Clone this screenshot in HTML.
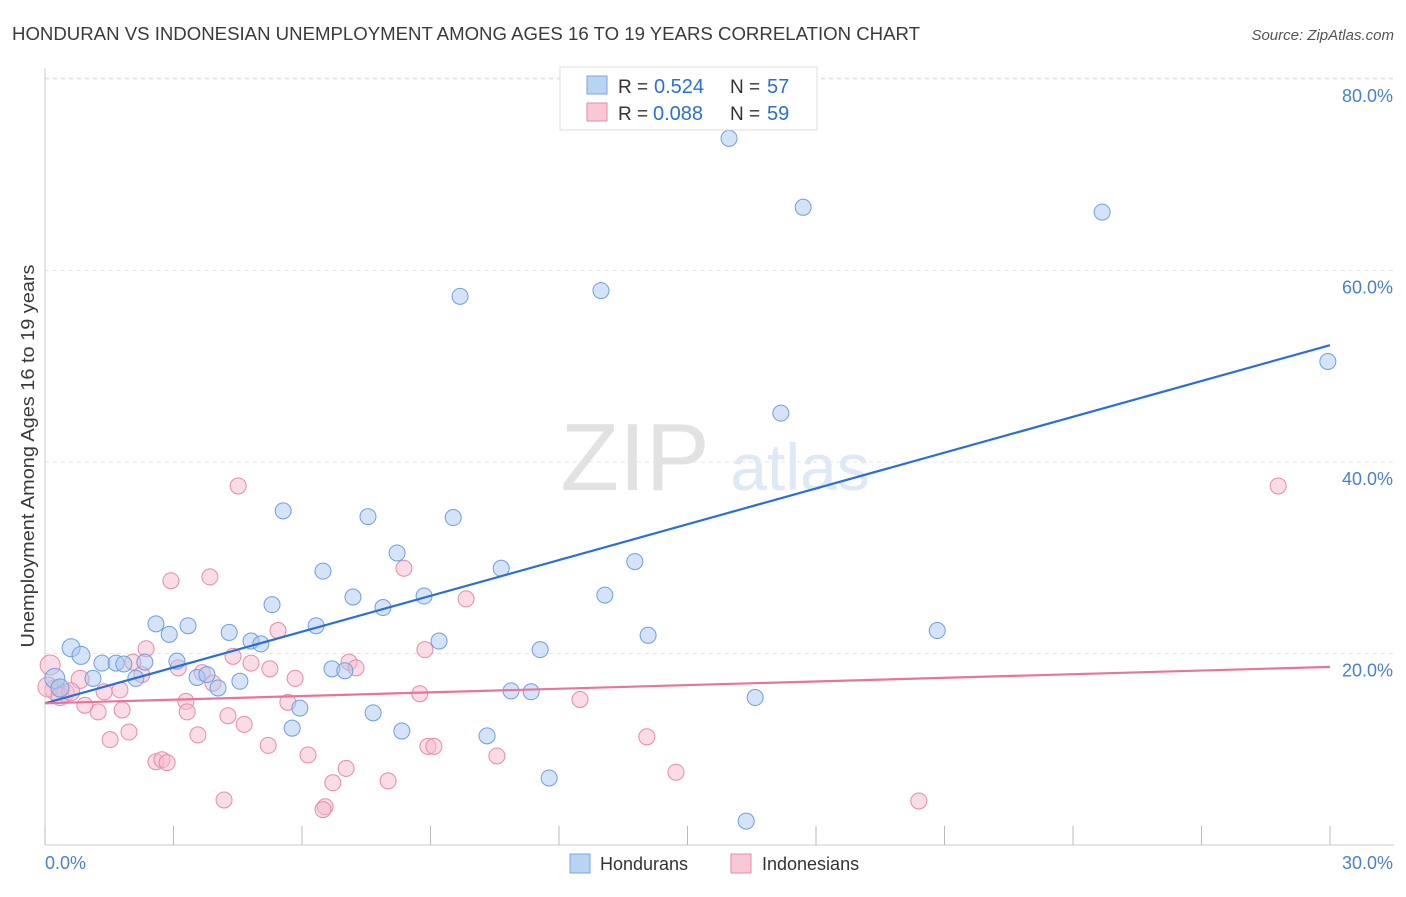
<!DOCTYPE html>
<html><head><meta charset="utf-8">
<style>
body{margin:0;background:#fff;font-family:"Liberation Sans",sans-serif;}
svg text{font-family:"Liberation Sans",sans-serif;}
</style></head>
<body>
<svg id="chart" width="1406" height="892" xmlns="http://www.w3.org/2000/svg">
<text x="12" y="40" font-size="18" fill="#3a3a3a" textLength="908" lengthAdjust="spacingAndGlyphs">HONDURAN VS INDONESIAN UNEMPLOYMENT AMONG AGES 16 TO 19 YEARS CORRELATION CHART</text>
<text x="1394" y="40" font-size="15" fill="#555" text-anchor="end" font-style="italic">Source: ZipAtlas.com</text>
<g id="grid"></g>
<g>
<text x="635" y="490" font-size="96" fill="#e2e2e2" text-anchor="middle" font-family="Liberation Serif">ZIP</text>
<text x="800" y="490" font-size="66" fill="#dfe8f5" text-anchor="middle">atlas</text>
</g>
<g id="pts"></g>
<g id="lines"></g>
<text transform="translate(34,456) rotate(-90)" font-size="18" fill="#3a3a3a" text-anchor="middle" textLength="383" lengthAdjust="spacingAndGlyphs">Unemployment Among Ages 16 to 19 years</text>
<g>
<rect x="560" y="67" width="257" height="63" fill="#fff" stroke="#ddd"/>
<rect x="587" y="76" width="20" height="18" fill="#b9d3f3" stroke="#7aa6e0"/>
<text x="618" y="93" font-size="19" fill="#333">R =</text>
<text x="654" y="93" font-size="20" fill="#2a6fd6">0.524</text>
<text x="730" y="93" font-size="19" fill="#333">N =</text>
<text x="767" y="93" font-size="20" fill="#2a6fd6">57</text>
<rect x="587" y="103" width="20" height="18" fill="#f9c8d7" stroke="#e88aaa"/>
<text x="618" y="120" font-size="19" fill="#333">R =</text>
<text x="653" y="120" font-size="20" fill="#2a6fd6">0.088</text>
<text x="730" y="120" font-size="19" fill="#333">N =</text>
<text x="767" y="120" font-size="20" fill="#2a6fd6">59</text>
</g>
<g>
<rect x="570" y="854" width="20" height="19" fill="#b9d3f3" stroke="#7aa6e0"/>
<text x="600" y="870" font-size="18" fill="#333">Hondurans</text>
<rect x="731" y="854" width="20" height="19" fill="#f9c8d7" stroke="#e88aaa"/>
<text x="762" y="870" font-size="18" fill="#333">Indonesians</text>
</g>
</svg>
<script>
const yTicks=[20,40,60,80];
const yTickLabels=["20.0%","40.0%","60.0%","80.0%"];
const xTickLabels=["0.0%","30.0%"];
const hondX=[15.97,17.70,24.68,9.69,12.98,29.95,17.18,5.56,7.54,9.53,8.22,6.49,10.65,13.77,7.19,8.85,13.07,5.30,7.89,2.59,3.34,2.90,4.30,6.33,14.08,20.83,4.81,5.04,9.20,11.56,0.61,0.84,1.33,1.66,1.84,2.33,3.08,2.12,1.12,3.55,3.78,4.04,4.55,6.70,7.00,0.23,0.35,10.88,11.35,16.58,5.95,7.66,5.77,8.33,10.32,11.77,16.37];
const hondY=[73.8,66.6,66.1,57.3,57.9,50.5,45.1,34.9,34.3,34.2,30.5,28.6,28.9,29.6,25.9,26.0,26.1,25.1,24.8,23.1,22.9,22.0,22.2,22.9,21.9,22.4,21.3,21.0,21.3,20.4,20.6,19.8,19.0,19.0,18.9,19.1,19.2,17.4,17.4,17.5,17.8,16.4,17.1,18.4,18.2,17.4,16.4,16.1,16.0,15.4,14.3,13.8,12.2,11.9,11.4,7.0,2.5];
const indoX=[4.51,2.94,3.85,8.38,9.83,5.44,2.36,8.87,4.39,7.10,2.05,7.26,4.81,3.11,5.25,3.67,3.92,5.84,0.82,0.12,0.47,1.38,1.75,2.26,8.75,12.49,3.29,5.67,3.32,1.24,1.80,0.93,4.27,4.65,1.96,3.57,1.52,5.21,8.94,9.08,14.05,6.14,10.55,2.59,2.73,2.85,7.03,14.73,8.01,6.72,4.18,20.40,6.54,6.49,28.79,0.23,0.07,0.35,0.6];
const indoY=[37.5,27.6,28.0,28.9,25.7,22.4,20.5,20.4,19.7,19.1,19.1,18.5,19.0,18.5,18.4,18.0,16.9,17.4,17.3,18.8,15.9,16.0,16.2,17.8,15.8,15.2,15.0,14.9,13.9,13.9,14.1,14.6,13.5,12.6,11.8,11.5,11.0,10.4,10.3,10.3,11.3,9.4,9.3,8.7,8.9,8.6,8.0,7.6,6.7,6.5,4.7,4.6,4.0,3.7,37.5,16.2,16.5,15.5,16.0];
const hondTrend=[14.8,52.2];
const indoTrend=[14.8,18.6];
const X0=45,X1=1330,Y0=845,PY=9.575;
const sx=v=>X0+(v/30)*(X1-X0);
const sy=v=>Y0-v*PY;
const NS="http://www.w3.org/2000/svg";
function mk(t,a,p){const e=document.createElementNS(NS,t);for(const k in a)e.setAttribute(k,a[k]);p.appendChild(e);return e;}
const grid=document.getElementById('grid');
yTicks.forEach((t,i)=>{
 const l=mk('line',{x1:X0,x2:1394,y1:sy(t),y2:sy(t),stroke:'#e4e4e4','stroke-dasharray':'4,4'},grid);
 
 
 const tx=mk('text',{x:1393,y:sy(t)+23,'font-size':18,fill:'#4a7fd0','text-anchor':'end'},grid);
 tx.textContent=yTickLabels[i];
 
 
});
const ax=mk('line',{x1:X0,x2:X0,y1:68,y2:Y0,stroke:'#ccc'},grid);


const bx=mk('line',{x1:X0,x2:1394,y1:Y0,y2:Y0,stroke:'#ccc'},grid);


mk('line',{x1:X0,x2:1394,y1:78,y2:78,stroke:'#e4e4e4','stroke-dasharray':'4,4'},grid);
for(let i=0;i<=10;i++){
 const t=mk('line',{x1:sx(i*3),x2:sx(i*3),y1:826,y2:Y0,stroke:'#bbb'},grid);
 
 
}
const xl0=mk('text',{x:45,y:869,'font-size':18,fill:'#4a7fd0'},grid);xl0.textContent=xTickLabels[0];


const xl1=mk('text',{x:1393,y:869,'font-size':18,fill:'#4a7fd0','text-anchor':'end'},grid);xl1.textContent=xTickLabels[1];


const pts=document.getElementById('pts');
function draw(xs,ys,fill,stroke,name){
 xs.forEach((x,i)=>{
  const r=x<0.9?(x<0.3?10:9):8;
  const c=mk('circle',{cx:sx(x),cy:sy(ys[i]),r:r,fill:fill,'fill-opacity':0.5,stroke:stroke,'stroke-width':1},pts);
  
  
 });
}
draw(indoX,indoY,'#f6b9cd','#e88aaa','indonesian-point');
draw(hondX,hondY,'#a9c8f0','#6f9ede','honduran-point');
const lines=document.getElementById('lines');
const l1=mk('line',{x1:sx(0),y1:sy(hondTrend[0]),x2:sx(30),y2:sy(hondTrend[1]),stroke:'#2a6fd6','stroke-width':2.2},lines);


const l2=mk('line',{x1:sx(0),y1:sy(indoTrend[0]),x2:sx(30),y2:sy(indoTrend[1]),stroke:'#e8749a','stroke-width':2.2},lines);


</script>
</body></html>
